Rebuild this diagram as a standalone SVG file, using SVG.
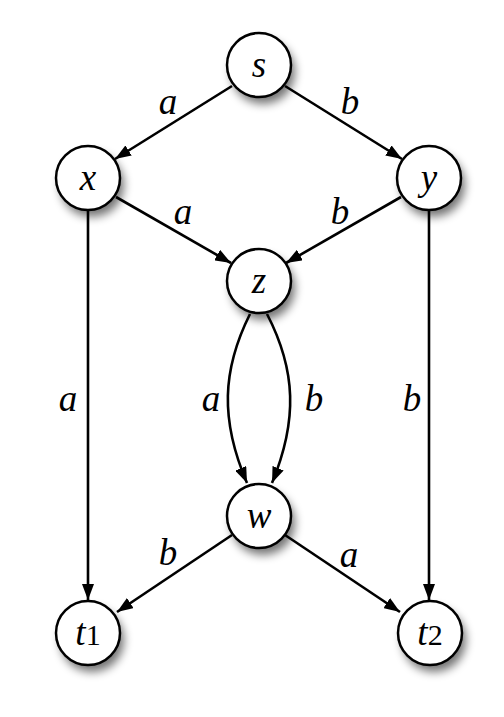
<svg xmlns="http://www.w3.org/2000/svg" width="504" height="717" viewBox="0 0 504 717">
<style>
.n{fill:#fff;stroke:#000;stroke-width:2.5}
.sh{fill:#000;opacity:0.55;filter:url(#blur)}
.e{fill:none;stroke:#000;stroke-width:2.6;marker-end:url(#arr)}
.lb{font-family:"Liberation Serif","DejaVu Serif",serif;font-style:italic;font-size:37px;text-anchor:middle}
.sub{font-style:normal;font-size:30px}
</style>
<defs>
<filter id="blur" x="-50%" y="-50%" width="200%" height="200%"><feGaussianBlur stdDeviation="5"/></filter>
<marker id="arr" viewBox="0 0 16 12" refX="16" refY="6" markerWidth="16" markerHeight="12" markerUnits="userSpaceOnUse" orient="auto"><path d="M0,0 L16,6 L0,12 z" fill="#000"/></marker>
</defs>
<rect width="504" height="717" fill="#fff"/>
<g id="connectors">
<line class="e" x1="232" y1="86" x2="115" y2="159"/>
<line class="e" x1="285" y1="86" x2="402" y2="159"/>
<line class="e" x1="116" y1="197" x2="231" y2="263"/>
<line class="e" x1="401" y1="197" x2="286" y2="263"/>
<line class="e" x1="88" y1="211" x2="88" y2="600"/>
<line class="e" x1="429" y1="211" x2="429" y2="600"/>
<path class="e" d="M250,314 C222,370 220,420 247,483"/>
<path class="e" d="M267,314 C296,370 298,420 272,483"/>
<line class="e" x1="232" y1="535" x2="117" y2="612"/>
<line class="e" x1="285" y1="535" x2="400" y2="612"/>
<text class="lb" x="168" y="114">a</text>
<text class="lb" x="350" y="114">b</text>
<text class="lb" x="183" y="224">a</text>
<text class="lb" x="340" y="224">b</text>
<text class="lb" x="68" y="411">a</text>
<text class="lb" x="211" y="411">a</text>
<text class="lb" x="314" y="411">b</text>
<text class="lb" x="412" y="411">b</text>
<text class="lb" x="168" y="565">b</text>
<text class="lb" x="349" y="567">a</text>
</g>
<g id="node-s"><circle class="sh" cx="263" cy="72" r="32"/><circle class="n" cx="259" cy="65" r="32"/><text class="lb" x="259" y="77">s</text></g>
<g id="node-x"><circle class="sh" cx="92" cy="185" r="32"/><circle class="n" cx="88" cy="178" r="32"/><text class="lb" x="88" y="190">x</text></g>
<g id="node-y"><circle class="sh" cx="433" cy="185" r="32"/><circle class="n" cx="429" cy="178" r="32"/><text class="lb" x="429" y="190">y</text></g>
<g id="node-z"><circle class="sh" cx="263" cy="288" r="32"/><circle class="n" cx="259" cy="281" r="32"/><text class="lb" x="259" y="293">z</text></g>
<g id="node-w"><circle class="sh" cx="263" cy="523" r="32"/><circle class="n" cx="259" cy="516" r="32"/><text class="lb" x="259" y="528">w</text></g>
<g id="node-t1"><circle class="sh" cx="92" cy="640" r="32"/><circle class="n" cx="88" cy="633" r="32"/><text class="lb" x="88" y="645">t<tspan class="sub">1</tspan></text></g>
<g id="node-t2"><circle class="sh" cx="434" cy="640" r="32"/><circle class="n" cx="430" cy="633" r="32"/><text class="lb" x="430" y="645">t<tspan class="sub">2</tspan></text></g>
</svg>
